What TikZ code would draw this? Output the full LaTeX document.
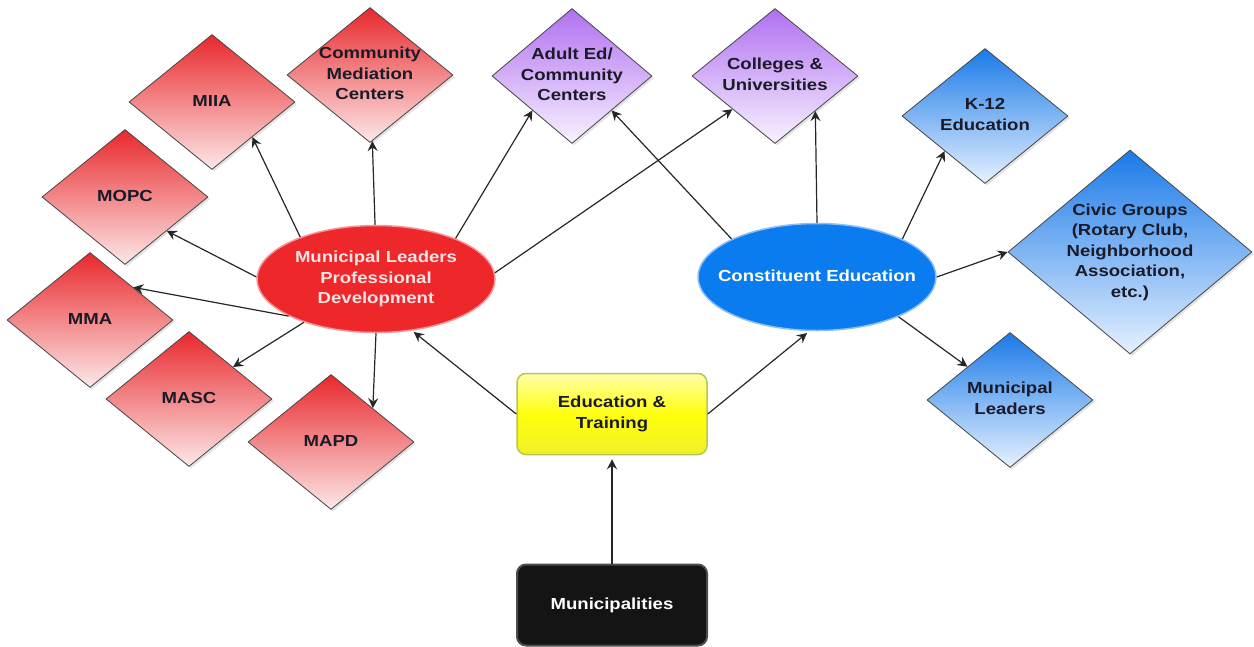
\documentclass[tikz,border=0pt]{standalone}
\usepackage{fontspec}
\setmainfont{Liberation Sans}[FakeStretch=1.16]
\usetikzlibrary{shapes.geometric,arrows.meta,shadows}
\definecolor{rtop}{RGB}{232,40,44}
\definecolor{rbot}{RGB}{253,232,232}
\definecolor{ptop}{RGB}{176,112,240}
\definecolor{pbot}{RGB}{248,242,255}
\definecolor{btop}{RGB}{26,122,232}
\definecolor{bbot}{RGB}{230,241,255}
\definecolor{dgray}{RGB}{70,70,70}
\definecolor{dtext}{RGB}{26,26,40}
\definecolor{ered}{RGB}{238,40,42}
\definecolor{eredb}{RGB}{244,150,150}
\definecolor{etxtr}{RGB}{251,228,228}
\definecolor{eblue}{RGB}{10,124,240}
\definecolor{eblueb}{RGB}{140,190,245}
\definecolor{ytop}{RGB}{255,255,170}
\definecolor{ybot}{RGB}{240,240,40}
\definecolor{yborder}{RGB}{180,200,80}
\newcommand\ztxt[1]{\hbox to 0pt{\hss\vbox to 0pt{\vss\hbox{\begin{tabular}{@{}c@{}}#1\end{tabular}}\vss}\hss}}
\tikzset{
  base/.style={inner sep=0pt, font=\fontsize{16}{20.5}\selectfont\bfseries},
  dia/.style={base, diamond, draw=dgray, line width=0.8pt, minimum width=166pt, minimum height=135pt,
    drop shadow={opacity=0.22, shadow xshift=2pt, shadow yshift=-2pt}, text=dtext},
  reddia/.style={dia, top color=rtop, bottom color=rbot},
  purdia/.style={dia, top color=ptop, bottom color=pbot},
  bludia/.style={dia, top color=btop, bottom color=bbot},
  ell/.style={base, ellipse, minimum width=238pt, minimum height=107pt, line width=1.5pt},
  boxy/.style={base, rectangle, rounded corners=9pt, minimum width=190pt, minimum height=81pt, line width=1.5pt},
  arr/.style={-{Stealth[length=10pt,width=10pt,inset=3.5pt]}, line width=1.2pt, black!85}
}
\begin{document}
\begin{tikzpicture}[x=1pt,y=-1pt]
\useasboundingbox (0,0) rectangle (1254,646);
% red diamonds
\node[reddia] (miia) at (212,102) {\ztxt{MIIA}};
\node[reddia] (cmc) at (370,75) {\ztxt{Community\\Mediation\\Centers}};
\node[reddia] (mopc) at (125,197) {\ztxt{MOPC}};
\node[reddia] (mma) at (90,320) {\ztxt{MMA}};
\node[reddia] (masc) at (189,399) {\ztxt{MASC}};
\node[reddia] (mapd) at (331,442) {\ztxt{MAPD}};
% purple diamonds
\node[purdia, minimum width=160pt] (adult) at (572,76) {\ztxt{Adult Ed/\\Community\\Centers}};
\node[purdia] (colleges) at (775,76) {\ztxt{Colleges \&\\Universities}};
% blue diamonds
\node[bludia] (k12) at (985,116) {\ztxt{K-12\\Education}};
\node[bludia, minimum width=244pt, minimum height=204pt] (civic) at (1130,252) {\ztxt{Civic Groups\\(Rotary Club,\\Neighborhood\\Association,\\etc.)}};
\node[bludia] (mleaders) at (1010,400) {\ztxt{Municipal\\Leaders}};
% ellipses
\node[ell, fill=ered, draw=eredb, text=etxtr] (mlpd) at (376,279) {\ztxt{Municipal Leaders\\Professional\\Development}};
\node[ell, fill=eblue, draw=eblueb, text=white] (ce) at (817,277) {\ztxt{Constituent Education}};
% boxes
\node[boxy, top color=ytop, bottom color=ybot, middle color=yellow!95!white, draw=yborder, text=dtext] (et) at (612,414) {\ztxt{Education \&\\Training}};
\node[boxy, fill=black!92, draw=black!70, line width=2pt, text=white] (muni) at (612,605) {\ztxt{Municipalities}};
% connectors
\draw[arr] (mlpd.151) -- (miia.-41);
\draw[arr] (mlpd.91) -- (cmc.-88);
\draw[arr] (mlpd.27) -- (adult.221);
\draw[arr] (mlpd.3) -- (colleges.218);
\draw[arr] (mlpd.179) -- (mopc.-39);
\draw[arr] (mlpd.203) -- (mma.37);
\draw[arr] (mlpd.211) -- (masc.36);
\draw[arr] (mlpd.270) -- (mapd.39);
\draw[arr] (ce.156) -- (adult.-41);
\draw[arr] (ce.90) -- (colleges.-41);
\draw[arr] (ce.24) -- (k12.221);
\draw[arr] (ce.0) -- (civic.west);
\draw[arr] (ce.-26) -- (mleaders.142);
\draw[arr, shorten >=2pt] (et.west) -- (mlpd.-55);
\draw[arr, shorten >=3pt] (et.east) -- (ce.262);
\draw[arr, shorten >=4pt] (muni.north) -- (et.south);
\end{tikzpicture}
\end{document}
